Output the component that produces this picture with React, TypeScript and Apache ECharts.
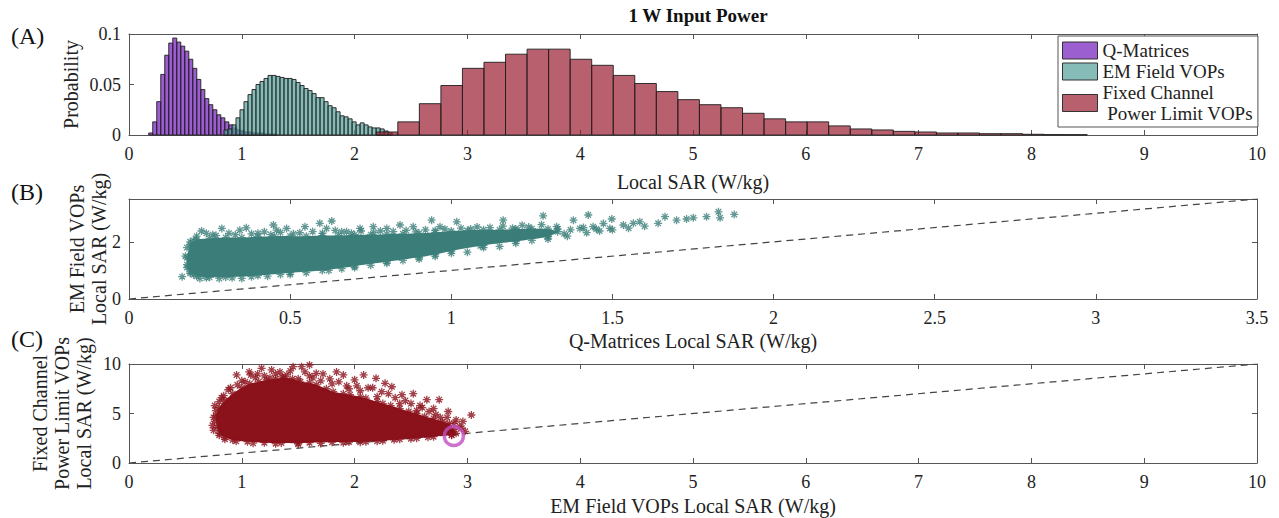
import React, { useEffect, useRef } from "react";
import * as echarts from "echarts";

// ---------- Panel A: histograms (bin start, bin width, probabilities) ----------
const qBinStart = 0.175;
const qBinWidth = 0.0355;
const qMatricesProb = [
  0.002, 0.013, 0.033, 0.06, 0.079, 0.091, 0.096, 0.092, 0.088, 0.083, 0.075,
  0.066, 0.055, 0.045, 0.036, 0.03, 0.025, 0.02, 0.017, 0.013, 0.01, 0.007,
  0.005, 0.004, 0.003, 0.003, 0.002, 0.002, 0.002, 0.001, 0.001, 0.001,
];

const emBinStart = 0.842;
const emBinWidth = 0.0355;
const emFieldProb = [
  0.005, 0.006, 0.01, 0.017, 0.025, 0.033, 0.04, 0.045, 0.05, 0.053, 0.056,
  0.059, 0.059, 0.058, 0.057, 0.056, 0.056, 0.055, 0.052, 0.049, 0.046, 0.044,
  0.041, 0.037, 0.037, 0.033, 0.029, 0.027, 0.023, 0.019, 0.018, 0.016, 0.013,
  0.01, 0.012, 0.01, 0.008, 0.007, 0.007, 0.006, 0.004, 0.002,
];

const fcBinStart = 2.192;
const fcBinWidth = 0.191;
const fixedChannelProb = [
  0.003, 0.013, 0.031, 0.049, 0.066, 0.072, 0.08, 0.085, 0.085, 0.075, 0.069,
  0.059, 0.051, 0.043, 0.035, 0.03, 0.027, 0.0215, 0.016, 0.013, 0.013, 0.009,
  0.006, 0.005, 0.0036, 0.003, 0.002, 0.002, 0.0013, 0.0013, 0.0007, 0.0004,
  0.0003,
];

const seriesNames = ["Q-Matrices", "EM Field VOPs", "Fixed Channel Power Limit VOPs"];

// ---------- Panel B: EM Field VOPs vs Q-Matrices (dense core envelope + individual points) ----------
const cloudBEnvelope = [
  [0.18, 1.45], [0.19, 1.9], [0.21, 2.08], [0.25, 2.12], [0.3, 2.15], [0.35, 2.15],
  [0.4, 2.18], [0.45, 2.2], [0.5, 2.2], [0.55, 2.2], [0.6, 2.22], [0.65, 2.22],
  [0.7, 2.25], [0.75, 2.25], [0.8, 2.27], [0.85, 2.28], [0.9, 2.3], [0.95, 2.33],
  [1.0, 2.38], [1.05, 2.4], [1.1, 2.42], [1.15, 2.42], [1.2, 2.45], [1.25, 2.46],
  [1.3, 2.45], [1.33, 2.35], [1.3, 2.18], [1.2, 2.02], [1.1, 1.88], [1.0, 1.68],
  [0.95, 1.56], [0.9, 1.46], [0.8, 1.3], [0.7, 1.15], [0.6, 1.0], [0.5, 0.92],
  [0.4, 0.82], [0.3, 0.76], [0.25, 0.76], [0.21, 0.8], [0.19, 0.95], [0.18, 1.1],
];
const emVsQPoints = [
  [0.165, 0.78], [0.225, 2.38], [0.288, 2.47], [0.344, 2.41], [0.364, 2.49],
  [0.448, 2.59], [0.458, 2.41], [0.489, 2.47], [0.546, 2.53], [0.592, 2.65],
  [0.629, 2.73], [0.613, 2.47], [0.675, 2.35], [0.717, 2.47], [0.758, 2.53],
  [0.8, 2.47], [0.841, 2.59], [0.882, 2.53], [0.939, 2.76], [0.965, 2.53],
  [1.017, 2.7], [1.09, 1.86], [1.161, 2.76], [1.203, 2.41], [1.285, 2.91],
  [1.275, 2.35], [1.327, 2.53], [1.379, 2.76], [1.399, 2.47], [1.425, 2.94],
  [1.44, 2.53], [1.472, 2.64], [1.498, 2.8], [1.492, 2.47], [1.534, 2.59],
  [1.565, 2.65], [1.585, 2.7], [1.642, 2.65], [1.663, 2.88], [1.699, 2.76],
  [1.73, 2.8], [1.751, 2.84], [1.792, 2.88], [1.829, 3.05], [1.834, 2.84],
  [1.878, 2.96], [1.3, 2.2], [1.35, 2.28], [1.42, 2.32], [1.46, 2.38],
  [1.5, 2.42], [1.55, 2.48], [1.6, 2.55], [0.19, 0.9], [0.22, 0.72],
  [0.35, 0.72], [0.5, 0.86], [0.7, 1.1], [0.9, 1.4], [1.05, 1.64], [1.15, 1.84],
  [1.25, 2.05], [0.2, 2.05], [0.26, 2.25], [0.4, 2.3], [0.53, 2.32], [0.66, 2.35],
  [0.78, 2.38], [0.92, 2.42], [1.08, 2.52], [1.22, 2.58],
  [0.21, 2.2], [0.24, 2.3], [0.27, 2.22], [0.31, 2.3], [0.33, 2.25], [0.38, 2.28],
  [0.42, 2.35], [0.44, 2.25], [0.47, 2.33], [0.51, 2.28], [0.57, 2.36], [0.6, 2.3],
  [0.64, 2.4], [0.69, 2.3], [0.72, 2.38], [0.76, 2.32], [0.82, 2.36], [0.86, 2.4],
  [0.89, 2.35], [0.95, 2.4], [0.98, 2.45], [1.03, 2.48], [1.06, 2.45], [1.12, 2.5],
  [1.16, 2.55], [1.19, 2.48], [1.24, 2.52], [1.28, 2.6], [1.33, 2.45], [1.37, 2.42],
  [1.41, 2.5], [1.45, 2.45], [0.2, 0.85], [0.24, 0.74], [0.28, 0.72], [0.32, 0.74],
  [0.38, 0.78], [0.43, 0.8], [0.47, 0.86], [0.55, 0.92], [0.62, 1.0], [0.66, 1.06],
  [0.75, 1.18], [0.8, 1.25], [0.85, 1.35], [0.95, 1.5], [1.0, 1.6], [1.1, 1.8],
  [1.2, 1.95], [1.3, 2.1], [1.36, 2.2], [0.18, 1.2], [0.175, 1.5], [0.18, 1.8],
  [0.19, 2.0],
];

// ---------- Panel C: Fixed Channel vs EM Field VOPs ----------
const cloudCEnvelope = [
  [0.8, 3.0], [0.78, 3.6], [0.77, 4.8], [0.8, 5.6], [0.85, 6.3], [0.92, 7.0],
  [1.0, 7.6], [1.07, 8.0], [1.15, 8.2], [1.22, 8.4], [1.3, 8.5], [1.37, 8.6],
  [1.45, 8.5], [1.52, 8.2], [1.6, 8.1], [1.66, 7.9], [1.75, 7.5], [1.81, 7.2],
  [1.9, 7.0], [1.96, 6.9], [2.05, 6.7], [2.1, 6.55], [2.2, 6.2], [2.25, 6.0],
  [2.32, 5.8], [2.4, 5.5], [2.48, 5.2], [2.55, 5.0], [2.62, 4.7], [2.7, 4.5],
  [2.78, 4.2], [2.84, 4.0], [2.88, 3.4], [2.9, 3.0], [2.86, 2.85], [2.7, 2.66],
  [2.55, 2.5], [2.4, 2.4], [2.25, 2.25], [2.1, 2.15], [1.95, 2.12], [1.8, 2.1],
  [1.6, 2.05], [1.5, 2.0], [1.35, 2.02], [1.2, 2.05], [1.05, 2.15], [0.92, 2.32],
  [0.85, 2.6],
];
const fcVsEmPoints = [
  [0.954, 8.9], [1.066, 9.2], [1.175, 9.56], [1.264, 9.4], [1.338, 9.2],
  [1.455, 9.73], [1.53, 9.73], [1.6, 9.9], [1.66, 9.06], [1.75, 10.1],
  [1.84, 9.2], [1.9, 8.9], [2.0, 8.4], [2.08, 8.9], [2.19, 8.55], [2.27, 8.05],
  [2.33, 7.7], [2.16, 7.6], [2.52, 7.0], [2.64, 6.4], [2.75, 6.4], [2.7, 5.5],
  [2.83, 5.2], [2.9, 4.35], [2.96, 4.2], [3.035, 4.85], [2.86, 2.8], [2.6, 5.6],
  [2.45, 6.3], [2.3, 7.0], [0.88, 7.4], [1.0, 8.3], [1.12, 8.6], [1.4, 8.9],
  [1.6, 8.8], [1.8, 8.0], [2.05, 7.3], [2.72, 4.9], [2.8, 3.6], [2.93, 3.7],
  [0.76, 4.2], [0.77, 5.3], [0.82, 6.6], [0.8, 2.8], [1.25, 8.6], [1.5, 8.5],
  [1.7, 8.3], [1.95, 7.5], [2.2, 6.7], [2.4, 6.0], [2.55, 5.3],
  [0.84, 6.8], [0.9, 7.6], [0.96, 7.9], [1.03, 8.2], [1.08, 8.9], [1.14, 9.0],
  [1.2, 8.8], [1.3, 9.0], [1.36, 8.7], [1.43, 9.3], [1.56, 9.2], [1.63, 8.6],
  [1.72, 9.0], [1.78, 8.5], [1.86, 8.2], [1.93, 7.8], [2.02, 7.8], [2.12, 7.6],
  [2.24, 7.2], [2.36, 6.6], [2.42, 6.9], [2.5, 6.0], [2.58, 5.8], [2.66, 5.2],
  [2.76, 4.6], [2.82, 4.6], [2.88, 4.0], [2.95, 3.5], [2.98, 3.2], [0.75, 3.3],
  [0.74, 3.8], [0.75, 4.6], [0.76, 5.8], [0.8, 6.2], [0.85, 2.4], [0.95, 2.2],
  [1.1, 2.0], [1.3, 1.95], [1.5, 1.9], [1.7, 1.98], [1.9, 2.05], [2.05, 2.1],
  [2.2, 2.2], [2.35, 2.35], [2.5, 2.45], [2.65, 2.6],
];
const highlightPoint = [[2.88, 2.73]];

const identityB = [[0, 0], [3.5, 3.5]];
const identityC = [[0, 0], [10, 10]];

// ---------- styling ----------
const FONT = '"Liberation Serif", "Times New Roman", serif';
const AXIS_COLOR = "#555";
const TEXT_COLOR = "#222";
const qFill = "rgba(114,26,186,0.7)";
const emFill = "rgba(82,159,154,0.7)";
const fcFill = "rgba(154,28,48,0.7)";
const qLegend = "#9c5fcf";
const emLegend = "#86bcb8";
const fcLegend = "#b8606e";
const tealDark = "#3b7e79";
const redDark = "#8b111b";
const ASTERISK = "path://M5,0L5,10M0,5L10,5M1.5,1.5L8.5,8.5M1.5,8.5L8.5,1.5";

const toBins = (start: number, width: number, probs: number[]) =>
  probs.map((p, i) => [start + i * width, start + (i + 1) * width, p]);

const histRender = (fill: string) => (params: any, api: any) => {
  const a = api.coord([api.value(0), api.value(2)]);
  const b = api.coord([api.value(1), 0]);
  return {
    type: "rect",
    shape: { x: a[0], y: a[1], width: b[0] - a[0], height: b[1] - a[1] },
    style: { fill, stroke: "#1e1e1e", lineWidth: 0.9 },
  };
};

const polygonRender = (fill: string) => (params: any, api: any) => {
  if (params.dataIndex !== 0) return null;
  const n = params.dataInsideLength;
  const pts: number[][] = [];
  for (let i = 0; i < n; i++) pts.push(api.coord([api.value(0, i), api.value(1, i)]));
  return { type: "polygon", shape: { points: pts, smooth: 0.25 }, style: { fill } };
};

const labelStyle = { fontFamily: FONT, fontSize: 18, color: TEXT_COLOR };
const nameStyle = { fontFamily: FONT, fontSize: 20, color: TEXT_COLOR };

function xPair(grid: number, min: number, max: number, interval: number, name: string, nameGap: number) {
  const base = {
    gridIndex: grid, type: "value", min, max, interval,
    axisLine: { show: true, onZero: false, lineStyle: { color: AXIS_COLOR, width: 1 } },
    axisTick: { show: true, inside: true, length: 5, lineStyle: { color: AXIS_COLOR } },
    splitLine: { show: false },
  };
  return [
    { ...base, position: "bottom", name, nameLocation: "middle", nameGap, nameMoveOverlap: false,
      nameTextStyle: nameStyle, axisLabel: { ...labelStyle, margin: 10 } },
    { ...base, position: "top", axisLabel: { show: false } },
  ];
}

function yPair(grid: number, min: number, max: number, interval: number, name: string, nameGap: number) {
  const base = {
    gridIndex: grid, type: "value", min, max, interval,
    axisLine: { show: true, onZero: false, lineStyle: { color: AXIS_COLOR, width: 1 } },
    axisTick: { show: true, inside: true, length: 5, lineStyle: { color: AXIS_COLOR } },
    splitLine: { show: false },
  };
  return [
    { ...base, position: "left", name, nameLocation: "middle", nameGap, nameMoveOverlap: false,
      nameTextStyle: { ...nameStyle, lineHeight: 22 },
      axisLabel: { ...labelStyle, margin: 8, showMaxLabel: max % interval === 0 } },
    { ...base, position: "right", axisLabel: { show: false } },
  ];
}

export default function App() {
  const ref = useRef<HTMLDivElement>(null);
  useEffect(() => {
    if (!ref.current) return;
    const chart = echarts.init(ref.current, null, { renderer: "svg" });
    const scatterStyle = (c: string) => ({ color: c, borderColor: c, borderWidth: 1.3 });
    const option: any = {
      animation: false,
      backgroundColor: "#fff",
      textStyle: { fontFamily: FONT },
      title: {
        text: "1 W Input Power", left: 693, top: 1, textAlign: "center",
        textStyle: { fontFamily: FONT, fontSize: 19, fontWeight: "bold", color: "#111" },
      },
      legend: {
        orient: "vertical", left: 1058, top: 36, padding: [4, 5, 3, 4],
        itemGap: 0, itemWidth: 35, itemHeight: 17, icon: "rect",
        borderColor: "#555", borderWidth: 1, backgroundColor: "#fff",
        textStyle: { fontFamily: FONT, fontSize: 19, color: TEXT_COLOR, lineHeight: 21 },
        formatter: (n: string) => (n === seriesNames[2] ? "Fixed Channel\n Power Limit VOPs" : n),
        data: [
          { name: seriesNames[0], itemStyle: { color: qLegend, borderColor: "#333", borderWidth: 1 } },
          { name: seriesNames[1], itemStyle: { color: emLegend, borderColor: "#333", borderWidth: 1 } },
          { name: seriesNames[2], itemStyle: { color: fcLegend, borderColor: "#333", borderWidth: 1 } },
        ],
      },
      grid: [
        { left: 129, top: 34, width: 1128, height: 101 },
        { left: 129, top: 199, width: 1128, height: 100 },
        { left: 129, top: 364, width: 1128, height: 99 },
      ],
      xAxis: [
        ...xPair(0, 0, 10, 1, "Local SAR (W/kg)", 37),
        ...xPair(1, 0, 3.5, 0.5, "Q-Matrices Local SAR (W/kg)", 32),
        ...xPair(2, 0, 10, 1, "EM Field VOPs Local SAR (W/kg)", 33),
      ],
      yAxis: [
        ...yPair(0, 0, 0.1, 0.05, "Probability", 47),
        ...yPair(1, 0, 3.5, 2, "EM Field VOPs\nLocal SAR (W/kg)", 19),
        ...yPair(2, 0, 10, 5, "Fixed Channel\nPower Limit VOPs\nLocal SAR (W/kg)", 34),
      ],
      graphic: [
        { type: "text", left: 11, top: 24, style: { text: "(A)", font: `24px ${FONT}`, fill: "#111" } },
        { type: "text", left: 11, top: 180, style: { text: "(B)", font: `24px ${FONT}`, fill: "#111" } },
        { type: "text", left: 11, top: 327, style: { text: "(C)", font: `24px ${FONT}`, fill: "#111" } },
      ],
      series: [
        {
          name: seriesNames[0], type: "custom", xAxisIndex: 0, yAxisIndex: 0,
          itemStyle: { color: qLegend }, renderItem: histRender(qFill),
          encode: { x: [0, 1], y: 2 }, data: toBins(qBinStart, qBinWidth, qMatricesProb),
        },
        {
          name: seriesNames[1], type: "custom", xAxisIndex: 0, yAxisIndex: 0,
          itemStyle: { color: emLegend }, renderItem: histRender(emFill),
          encode: { x: [0, 1], y: 2 }, data: toBins(emBinStart, emBinWidth, emFieldProb),
        },
        {
          name: seriesNames[2], type: "custom", xAxisIndex: 0, yAxisIndex: 0,
          itemStyle: { color: fcLegend }, renderItem: histRender(fcFill),
          encode: { x: [0, 1], y: 2 }, data: toBins(fcBinStart, fcBinWidth, fixedChannelProb),
        },
        // Panel B
        {
          name: "B identity", type: "line", xAxisIndex: 2, yAxisIndex: 2, data: identityB,
          showSymbol: false, silent: true, lineStyle: { color: "#444", width: 1.2, type: [7, 5] }, z: 1,
        },
        {
          name: "B core", type: "custom", xAxisIndex: 2, yAxisIndex: 2,
          renderItem: polygonRender(tealDark), encode: { x: 0, y: 1 }, data: cloudBEnvelope, z: 2,
        },
        {
          name: "B core edge", type: "scatter", xAxisIndex: 2, yAxisIndex: 2, data: cloudBEnvelope,
          symbol: ASTERISK, symbolSize: 8, z: 3, itemStyle: scatterStyle(tealDark),
        },
        {
          name: "B points", type: "scatter", xAxisIndex: 2, yAxisIndex: 2, data: emVsQPoints,
          symbol: ASTERISK, symbolSize: 8, z: 3, itemStyle: scatterStyle(tealDark),
        },
        // Panel C
        {
          name: "C identity", type: "line", xAxisIndex: 4, yAxisIndex: 4, data: identityC,
          showSymbol: false, silent: true, lineStyle: { color: "#444", width: 1.2, type: [7, 5] }, z: 1,
        },
        {
          name: "C core", type: "custom", xAxisIndex: 4, yAxisIndex: 4,
          renderItem: polygonRender(redDark), encode: { x: 0, y: 1 }, data: cloudCEnvelope, z: 2,
        },
        {
          name: "C core edge", type: "scatter", xAxisIndex: 4, yAxisIndex: 4, data: cloudCEnvelope,
          symbol: ASTERISK, symbolSize: 8, z: 3, itemStyle: scatterStyle(redDark),
        },
        {
          name: "C points", type: "scatter", xAxisIndex: 4, yAxisIndex: 4, data: fcVsEmPoints,
          symbol: ASTERISK, symbolSize: 8, z: 3, itemStyle: scatterStyle(redDark),
        },
        {
          name: "Highlight", type: "scatter", xAxisIndex: 4, yAxisIndex: 4, data: highlightPoint,
          symbol: "circle", symbolSize: 19, z: 4,
          itemStyle: { color: "rgba(0,0,0,0)", borderColor: "#c04fc0", borderWidth: 3.5 },
        },
      ],
    };
    chart.setOption(option);
    return () => chart.dispose();
  }, []);
  return (
    <div
      ref={ref}
      style={{ position: "fixed", left: 0, top: 0, width: 1279, height: 518, background: "#fff" }}
    />
  );
}
